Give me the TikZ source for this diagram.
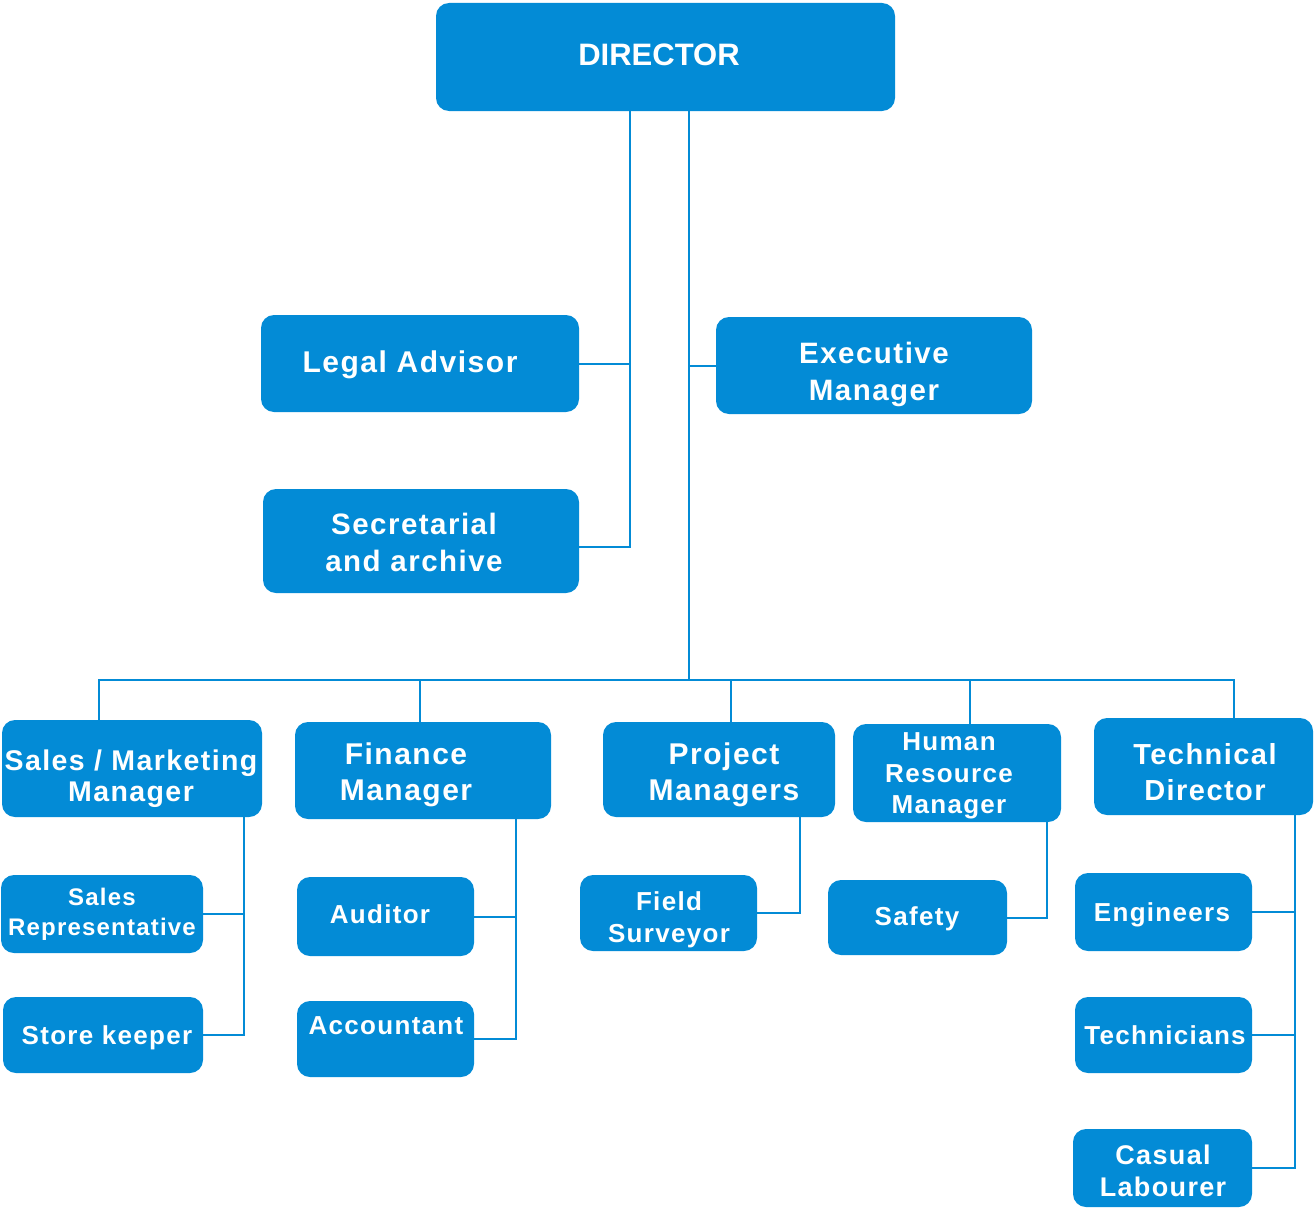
\documentclass[tikz,border=0pt]{standalone}
\usepackage{fontspec}
\setmainfont{Liberation Sans}
\newfontfamily\spacedfont{Liberation Sans}[LetterSpace=5]
\definecolor{orgblue}{RGB}{3,139,214}
\newcommand\fs[2]{\spacedfont\fontsize{#1}{#2}\selectfont\bfseries}
\newcommand\fp[2]{\rmfamily\fontsize{#1}{#2}\selectfont\bfseries}
\newcommand\obox[9]{%
  \node[orgbox, minimum width={#4-#2}, minimum height={#5-#3}] (#1) at ({(#2+#4)/2},{(#3+#5)/2}) {};
  \node[orgtxt, font=#8] (#1-t) at (#6,#7) {#9};
}
\tikzset{
  orgbox/.style={fill=orgblue, draw=none, rounded corners=13pt, inner sep=0pt},
  orgtxt/.style={text=white, align=center, inner sep=0pt},
  conn/.style={draw=orgblue, line width=2pt}
}
\begin{document}
\begin{tikzpicture}[x=1pt,y=-1pt]
\useasboundingbox (0,0) rectangle (1314,1207);
\obox{dir}{436}{3}{895}{111}{659}{55}{\fp{31}{37}}{DIRECTOR}
\obox{legal}{261}{315}{579}{412}{410}{365}{\fs{30}{36}}{Legal Advisor}
\obox{exec}{716}{317}{1032}{414}{874}{374}{\fs{29.5}{37}}{Executive\\Manager}
\obox{sec}{263}{489}{579}{593}{414}{542}{\fs{29.5}{37}}{Secretarial\\and archive}
\obox{sales}{2}{720}{262}{817}{131}{779}{\fs{28.5}{31}}{Sales / Marketing\\Manager}
\obox{fin}{295}{722}{551}{819}{406}{775}{\fs{30}{36}}{Finance\\Manager}
\obox{proj}{603}{722}{835}{817}{724}{775}{\fs{30}{36}}{Project\\Managers}
\obox{hr}{853}{724}{1061}{822}{949}{776}{\fs{26}{31.5}}{Human\\Resource\\Manager}
\obox{tech}{1094}{718}{1313}{815}{1205}{772}{\fs{29}{36}}{Technical\\Director}
\obox{srep}{1}{875}{203}{953}{102}{914}{\fs{24}{30}}{Sales\\Representative}
\obox{store}{3}{997}{203}{1073}{107}{1038}{\fs{26}{31}}{Store keeper}
\obox{aud}{297}{877}{474}{956}{380}{914}{\fs{26}{31}}{Auditor}
\obox{acc}{297}{1001}{474}{1077}{386}{1026}{\fs{26}{31}}{Accountant}
\obox{field}{580}{875}{757}{951}{669}{920}{\fs{26}{32}}{Field\\Surveyor}
\obox{safety}{828}{880}{1007}{955}{917}{919}{\fs{26}{31}}{Safety}
\obox{eng}{1075}{873}{1252}{951}{1162}{915}{\fs{26}{31}}{Engineers}
\obox{techn}{1075}{997}{1252}{1073}{1165}{1035}{\fs{26}{31}}{Technicians}
\obox{casual}{1073}{1129}{1252}{1207}{1163}{1171}{\fs{27}{32}}{Casual\\Labourer}
% spine coordinates
\coordinate (sL) at (630,547);
\coordinate (sR) at (689,680);
\coordinate (bSales) at (99,680);
\coordinate (bFin) at (420,680);
\coordinate (bProj) at (731,680);
\coordinate (bHR) at (970,680);
\coordinate (bTech) at (1234,680);
\coordinate (vS) at (244,0);
\coordinate (vF) at (516,0);
\coordinate (vP) at (800,0);
\coordinate (vH) at (1047,0);
\coordinate (vT) at (1295,0);
% director branches
\draw[conn] (dir.south -| sL) -- (sL) -- (sec.east |- sL);
\draw[conn] (legal.east) -- (legal.east -| sL);
\draw[conn] (dir.south -| sR) -- (sR);
\draw[conn] (sR |- exec.west) -- (exec.west);
% bus
\draw[conn] (bSales |- sales.north) -- (bSales) -- (bTech) -- (bTech |- tech.north);
\draw[conn] (bFin) -- (bFin |- fin.north);
\draw[conn] (bProj) -- (bProj |- proj.north);
\draw[conn] (bHR) -- (bHR |- hr.north);
% sub trees
\draw[conn] (sales.south -| vS) -- (vS |- store.east) -- (store.east);
\draw[conn] (srep.east) -- (srep.east -| vS);
\draw[conn] (fin.south -| vF) -- (vF |- acc.east) -- (acc.east);
\draw[conn] (aud.east) -- (aud.east -| vF);
\draw[conn] (proj.south -| vP) -- (vP |- field.east) -- (field.east);
\draw[conn] (hr.south -| vH) -- (vH |- safety.east) -- (safety.east);
\draw[conn] (tech.south -| vT) -- (vT |- casual.east) -- (casual.east);
\draw[conn] (eng.east) -- (eng.east -| vT);
\draw[conn] (techn.east) -- (techn.east -| vT);
\end{tikzpicture}
\end{document}
